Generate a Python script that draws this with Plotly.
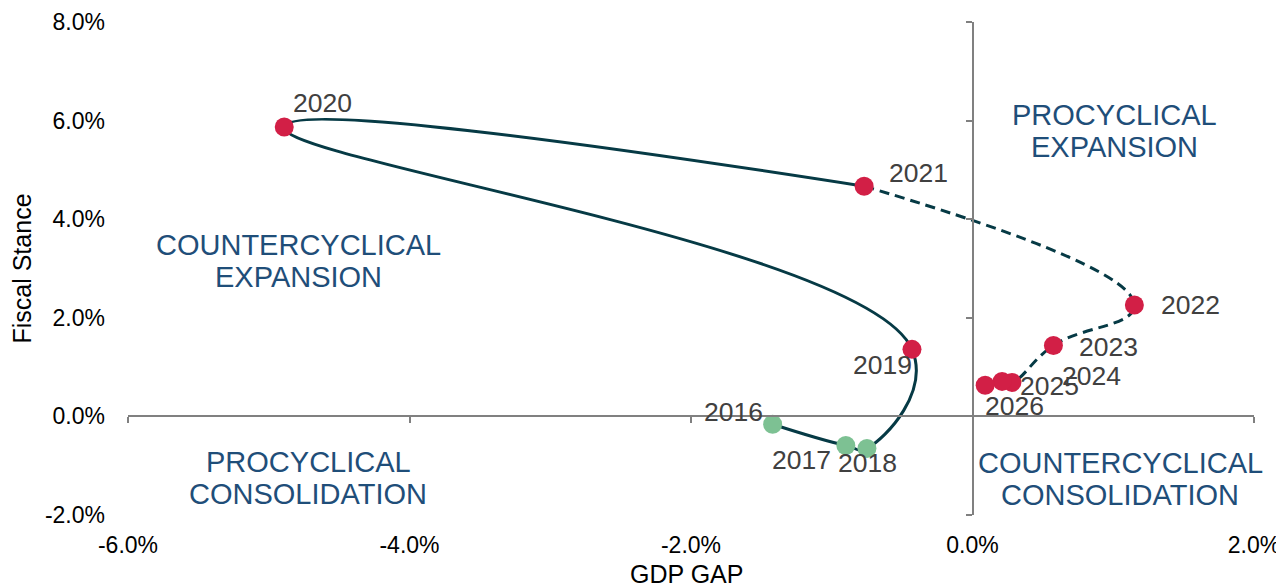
import plotly.graph_objects as go

# GDP gap (x) and fiscal stance (y), both in percent
years = [2016, 2017, 2018, 2019, 2020, 2021, 2022, 2023, 2024, 2025, 2026]
gdp_gap = [-1.42, -0.90, -0.75, -0.43, -4.89, -0.77, 1.15, 0.575, 0.28, 0.21, 0.09]
fiscal_stance = [-0.16, -0.59, -0.65, 1.36, 5.87, 4.67, 2.26, 1.44, 0.69, 0.71, 0.63]

quadrant_text = ["PROCYCLICAL<br>EXPANSION", "COUNTERCYCLICAL<br>EXPANSION",
                 "PROCYCLICAL<br>CONSOLIDATION", "COUNTERCYCLICAL<br>CONSOLIDATION"]
quadrant_x = [1.01, -4.79, -4.72, 1.05]
quadrant_y = [5.79, 3.15, -1.24, -1.26]

x_ticks = [-6, -4, -2, 0, 2]
y_ticks = [-2, 0, 2, 4, 6, 8]

# label offsets in pixels (dx right, dy up)
label_shift = [(-39, 12), (-44, -15), (1, -15), (-29, -16), (38, 24), (54, 13),
               (56, 0), (55, -2), (80, 6), (47, -5), (29, -21)]

FONT = "Liberation Sans, Arial, sans-serif"
LINE = "#063A45"
RED = "#D21F46"
GREEN = "#7DC193"

split = years.index(2021)

fig = go.Figure()

fig.add_trace(go.Scatter(x=gdp_gap[:split + 1], y=fiscal_stance[:split + 1], mode="lines",
                         line=dict(color=LINE, width=3, shape="spline", smoothing=1.3),
                         hoverinfo="skip"))
fig.add_trace(go.Scatter(x=gdp_gap[split:], y=fiscal_stance[split:], mode="lines",
                         line=dict(color=LINE, width=3, shape="spline", smoothing=1.3,
                                   dash="10px,6px"),
                         hoverinfo="skip"))

colors = [GREEN if yr < 2019 else RED for yr in years]
fig.add_trace(go.Scatter(x=gdp_gap, y=fiscal_stance, mode="markers",
                         marker=dict(size=19, color=colors), text=years,
                         hovertemplate="%{text}: %{x:.1f}%, %{y:.1f}%<extra></extra>"))

# dummy trace so the zero-crossing axes get drawn
fig.add_trace(go.Scatter(x=[None], y=[None], xaxis="x2", yaxis="y2", hoverinfo="skip"))

for yr, gx, fs, (dx, dy) in zip(years, gdp_gap, fiscal_stance, label_shift):
    fig.add_annotation(x=gx, y=fs, text=str(yr), showarrow=False, xshift=dx, yshift=dy,
                       font=dict(size=26.5, color="#404040", family=FONT))

# quadrant names, one annotation per line so the line spacing stays tight
for t, qx, qy in zip(quadrant_text, quadrant_x, quadrant_y):
    lines = t.split("<br>")
    for i, part in enumerate(lines):
        fig.add_annotation(x=qx, y=qy, text=part, showarrow=False,
                           yshift=16 - 32 * i,
                           font=dict(size=29, color="#1F4E79", family=FONT))

# x axis title sits lower than plotly allows for axis titles
fig.add_annotation(x=0.5, y=0, xref="paper", yref="paper", text="GDP GAP",
                   showarrow=False, xshift=-5, yshift=-59, yanchor="middle",
                   font=dict(size=25, color="black", family=FONT))

# page body adds an 8px margin, so the figure is 8px smaller each way
fig.update_layout(
    width=1276, height=579,
    margin=dict(l=120, r=30, t=14, b=72),
    plot_bgcolor="white", paper_bgcolor="white",
    showlegend=False,
    font=dict(family=FONT, color="black"),
    xaxis=dict(range=[-6, 2], tickvals=x_ticks, ticktext=[f"{v:.1f}%" for v in x_ticks],
               showgrid=False, zeroline=False, showline=False, ticks="", automargin=False,
               tickfont=dict(size=23), ticklabelstandoff=14),
    yaxis=dict(range=[-2, 8], tickvals=y_ticks, ticktext=[f"{v:.1f}%" for v in y_ticks],
               showgrid=False, zeroline=False, showline=False, ticks="", automargin=False,
               tickfont=dict(size=23), ticklabelstandoff=22,
               title=dict(text="Fiscal Stance", font=dict(size=25), standoff=6)),
    xaxis2=dict(range=[-6, 2], overlaying="x", anchor="free", position=0.2,
                tickvals=x_ticks, showticklabels=False, ticks="outside", ticklen=6,
                tickcolor="#808080", tickwidth=1.5, showline=True, linecolor="#808080",
                linewidth=1.5, showgrid=False, zeroline=False, automargin=False),
    yaxis2=dict(range=[-2, 8], overlaying="y", anchor="free", position=0.75, side="left",
                tickvals=y_ticks, showticklabels=False, ticks="outside", ticklen=6,
                tickcolor="#808080", tickwidth=1.5, showline=True, linecolor="#808080",
                linewidth=1.5, showgrid=False, zeroline=False, automargin=False),
)

fig.write_html("out.html")
